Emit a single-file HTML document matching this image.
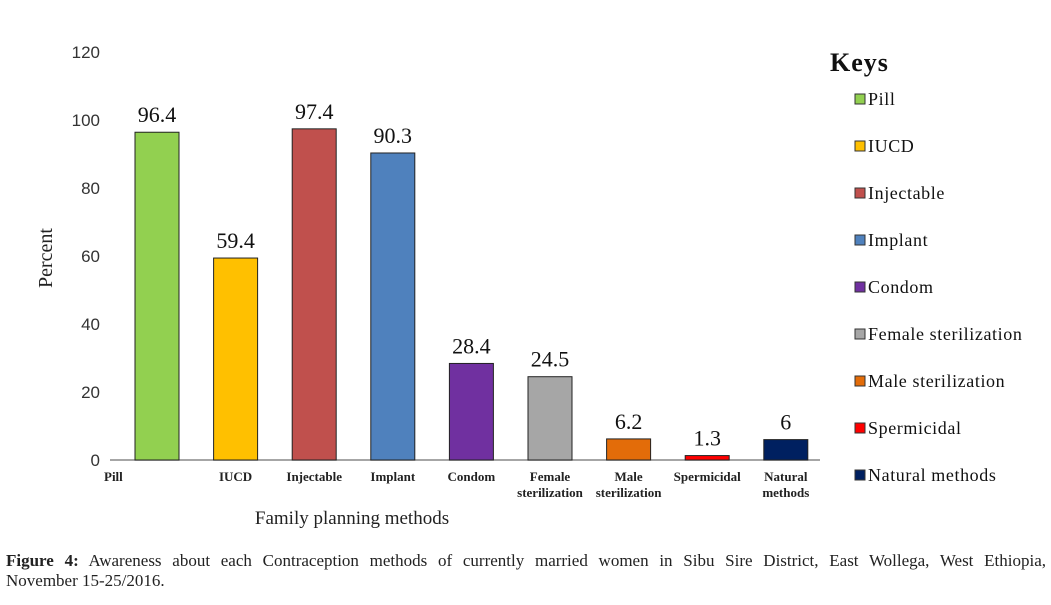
<!DOCTYPE html>
<html><head><meta charset="utf-8"><style>
body{margin:0;background:#fff;width:1051px;height:605px;overflow:hidden;font-family:"Liberation Serif",serif}
svg{position:absolute;left:0;top:0}
.cap{position:absolute;left:6px;top:551px;width:1040px;font-size:17px;line-height:20px;color:#222}
.l1{text-align:justify;text-align-last:justify}
</style></head><body>
<svg id="chart" width="1051" height="545"></svg>
<div class="cap"><div class="l1"><b>Figure 4:</b> Awareness about each Contraception methods of currently married women in Sibu Sire District, East Wollega, West Ethiopia,</div><div>November 15-25/2016.</div></div>
<script>
const categories=["Pill","IUCD","Injectable","Implant","Condom","Female sterilization","Male sterilization","Spermicidal","Natural methods"];
const xLabels=[["Pill"],["IUCD"],["Injectable"],["Implant"],["Condom"],["Female","sterilization"],["Male","sterilization"],["Spermicidal"],["Natural","methods"]];
const values=[96.4,59.4,97.4,90.3,28.4,24.5,6.2,1.3,6];
const valueLabels=["96.4","59.4","97.4","90.3","28.4","24.5","6.2","1.3","6"];
const colors=["#92d050","#ffc000","#c0504d","#4f81bd","#7030a0","#a6a6a6","#e36c09","#ff0000","#002060"];
const yTicks=[0,20,40,60,80,100,120];
const NS="http://www.w3.org/2000/svg",svg=document.getElementById('chart');
const y0=460,yTop=52,yMax=120,xAxis0=110,xAxis1=820,slot=78.6,c0=157,bw=44;
const y=v=>y0-(v/yMax)*(y0-yTop);
const x=i=>c0+i*slot;
function mk(t,a,txt){const e=document.createElementNS(NS,t);for(const k in a)e.setAttribute(k,a[k]);if(txt!=null)e.textContent=txt;svg.appendChild(e);return e;}
let ax=mk('line',{x1:xAxis0,y1:y0,x2:xAxis1,y2:y0,stroke:'#888','stroke-width':1.5});


yTicks.forEach(t=>{let e=mk('text',{x:100,y:y(t)+6,'text-anchor':'end','font-size':17,'font-family':'Liberation Sans, sans-serif',fill:'#333'},t);

});
values.forEach((v,i)=>{
let r=mk('rect',{x:x(i)-bw/2,y:y(v),width:bw,height:y0-y(v),fill:colors[i],stroke:'#222','stroke-width':1});


let t=mk('text',{x:x(i),y:y(v)-10,'text-anchor':'middle','font-size':22,fill:'#111'},valueLabels[i]);


xLabels[i].forEach((ln,j)=>{let l=mk('text',{x:i==0?x(i)-53:x(i),y:481+j*16,'text-anchor':i==0?'start':'middle','font-size':13,'font-weight':'bold',fill:'#222'},ln);

});
});
let yt=mk('text',{x:0,y:0,transform:'translate(52,258) rotate(-90)','text-anchor':'middle','font-size':20,fill:'#222'},'Percent');


let xt=mk('text',{x:352,y:524,'text-anchor':'middle','font-size':19,fill:'#222'},'Family  planning methods');


let kt=mk('text',{x:830,y:71,'font-size':26,'font-weight':'bold','letter-spacing':1,fill:'#111'},'Keys');


categories.forEach((c,i)=>{const ly=100+i*47;
let s=mk('rect',{x:855,y:ly-6,width:10,height:10,fill:colors[i],stroke:'#333','stroke-width':1});


let t=mk('text',{x:868,y:ly+5,'font-size':18,'letter-spacing':0.6,fill:'#111'},c);

});
</script>
</body></html>
